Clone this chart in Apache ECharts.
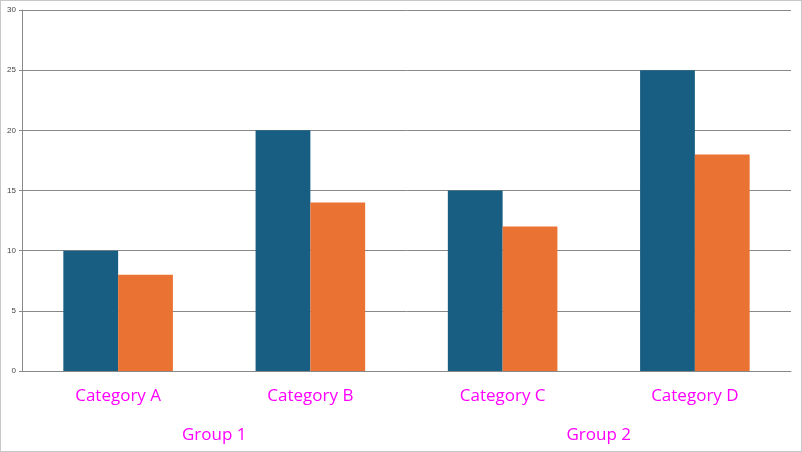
<!DOCTYPE html>
<html>
<head>
<meta charset="utf-8">
<script src="https://cdn.jsdelivr.net/npm/echarts@6/dist/echarts.min.js"></script>
<style>
html,body{margin:0;padding:0;}
#chart{width:800px;height:450px;border:1px solid #c8c8c8;}
</style>
</head>
<body>
<div id="chart"></div>
<script>
var categories = ['Category A', 'Category B', 'Category C', 'Category D'];
var groups = ['Group 1', 'Group 2'];
var series1 = [10, 20, 15, 25];
var series2 = [8, 14, 12, 18];

var myChart = echarts.init(document.getElementById('chart'));
myChart.setOption({
    animation: false,
    grid: { left: 21, right: 10, top: 9, bottom: 80 },
    xAxis: [
        {
            type: 'category',
            data: categories,
            axisLine: { lineStyle: { color: '#888' } },
            axisTick: { alignWithLabel: true, length: 5, lineStyle: { color: '#888' } },
            axisLabel: { color: '#ff00ff', fontSize: 17, margin: 17, fontFamily: 'Open Sans' }
        },
        {
            type: 'category',
            data: categories,
            position: 'bottom',
            offset: -6,
            axisLine: { show: false },
            axisTick: { length: 44, lineStyle: { color: '#888' } },
            axisLabel: { show: false }
        },
        {
            type: 'category',
            data: groups,
            position: 'bottom',
            offset: -6,
            axisLine: { show: false },
            axisTick: { length: 82, lineStyle: { color: '#888' } },
            axisLabel: { color: '#ff00ff', fontSize: 17, margin: 62, fontFamily: 'Open Sans' }
        }
    ],
    yAxis: {
        type: 'value',
        min: 0,
        max: 30,
        interval: 5,
        axisLine: { show: true, lineStyle: { color: '#888' } },
        axisTick: { show: true, length: 3, lineStyle: { color: '#888' } },
        axisLabel: { color: '#444', fontSize: 8, margin: 6 },
        splitLine: { lineStyle: { color: '#888' } }
    },
    series: [
        { type: 'bar', data: series1, barGap: '0%', barCategoryGap: '43%', itemStyle: { color: '#175e82' } },
        { type: 'bar', data: series2, barGap: '0%', barCategoryGap: '43%', itemStyle: { color: '#ea7333' } }
    ]
});
</script>
</body>
</html>
